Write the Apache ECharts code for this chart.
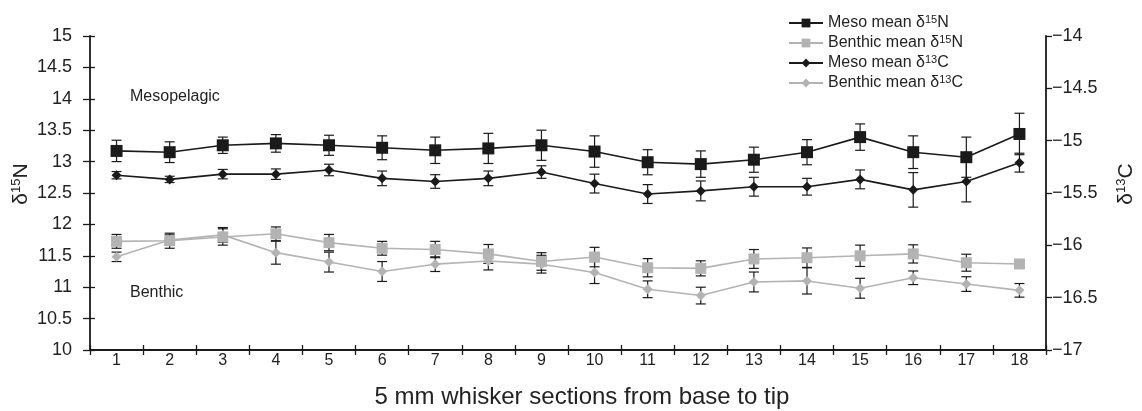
<!DOCTYPE html>
<html>
<head>
<meta charset="utf-8">
<script src="https://cdn.jsdelivr.net/npm/echarts@6/dist/echarts.min.js"></script>
<style>
html,body{margin:0;padding:0;background:#fff;}
#chart{width:1142px;height:411px;}
</style>
</head>
<body>
<div id="chart"></div>
<script>
const categories = ['1','2','3','4','5','6','7','8','9','10','11','12','13','14','15','16','17','18'];
const leftTicks = [10, 15, 0.5];
const rightTicks = [-17, -14, 0.5];

const mesoN    = [13.17,13.15,13.26,13.29,13.26,13.22,13.18,13.21,13.26,13.16,12.99,12.96,13.03,13.15,13.39,13.15,13.07,13.44];
const mesoNErr = [0.17,0.165,0.13,0.14,0.16,0.19,0.21,0.24,0.24,0.25,0.2,0.21,0.2,0.2,0.21,0.26,0.32,0.33];
const benN     = [11.73,11.74,11.80,11.85,11.71,11.62,11.60,11.53,11.41,11.48,11.31,11.30,11.45,11.47,11.50,11.53,11.39,11.37];
const benNErr  = [0.11,0.12,0.13,0.11,0.13,0.11,0.13,0.15,0.14,0.155,0.145,0.12,0.15,0.155,0.17,0.145,0.135,0.065];
const mesoC    = [-15.33,-15.37,-15.32,-15.32,-15.28,-15.36,-15.39,-15.36,-15.30,-15.41,-15.51,-15.48,-15.44,-15.44,-15.37,-15.47,-15.39,-15.21];
const mesoCErr = [0.035,0.03,0.045,0.05,0.055,0.07,0.065,0.07,0.06,0.09,0.09,0.095,0.09,0.08,0.09,0.165,0.195,0.09];
const benC     = [-16.11,-15.95,-15.90,-16.07,-16.16,-16.25,-16.18,-16.15,-16.18,-16.26,-16.42,-16.48,-16.35,-16.34,-16.41,-16.31,-16.37,-16.43];
const benCErr  = [0.045,0.05,0.07,0.11,0.095,0.095,0.07,0.085,0.085,0.105,0.08,0.08,0.095,0.125,0.095,0.065,0.07,0.065];

const seriesNames = ['Meso mean δ15N','Benthic mean δ15N','Meso mean δ13C','Benthic mean δ13C'];
const legendRich = {
  'Meso mean δ15N': '{t|Meso mean δ}{s|15}{t|N}',
  'Benthic mean δ15N': '{t|Benthic mean δ}{s|15}{t|N}',
  'Meso mean δ13C': '{t|Meso mean δ}{s|13}{t|C}',
  'Benthic mean δ13C': '{t|Benthic mean δ}{s|13}{t|C}'
};

const FONT = '"Liberation Sans", Arial, Helvetica, sans-serif';
const TXT = '#222';
const BLACK = '#1a1a1a';
const GREY = '#b3b3b3';

function errData(vals, errs) {
  return vals.map((v, i) => [i, v - errs[i], v + errs[i]]);
}
function errRender(params, api) {
  const x = api.value(0);
  const lo = api.coord([x, api.value(1)]);
  const hi = api.coord([x, api.value(2)]);
  const w = 5;
  const st = {stroke: BLACK, lineWidth: 1.2};
  return {
    type: 'group',
    children: [
      {type: 'line', shape: {x1: lo[0], y1: lo[1], x2: hi[0], y2: hi[1]}, style: st},
      {type: 'line', shape: {x1: lo[0]-w, y1: lo[1], x2: lo[0]+w, y2: lo[1]}, style: st},
      {type: 'line', shape: {x1: hi[0]-w, y1: hi[1], x2: hi[0]+w, y2: hi[1]}, style: st}
    ]
  };
}
function errSeries(vals, errs, yIdx) {
  return {
    type: 'custom', xAxisIndex: 0, yAxisIndex: yIdx, renderItem: errRender,
    data: errData(vals, errs), silent: true, z: 1,
    encode: {x: 0, y: [1, 2]}
  };
}
function lineSeries(name, vals, yIdx, color, symbol, size, z) {
  return {
    name: name, type: 'line', xAxisIndex: 0, yAxisIndex: yIdx, data: vals,
    symbol: symbol, symbolSize: size, showAllSymbol: true,
    lineStyle: {color: color, width: 1.6},
    itemStyle: {color: color, borderWidth: 0},
    emphasis: {disabled: true}, animation: false, z: z
  };
}
const minusFmt = v => String(v).replace('-', '\u2212');
const nameRich = {
  t: {fontSize: 21, fontFamily: FONT, color: TXT},
  s: {fontSize: 13, fontFamily: FONT, color: TXT, verticalAlign: 'bottom', padding: [0, 0, 9, 0]}
};

const chart = echarts.init(document.getElementById('chart'));
chart.setOption({
  animation: false,
  backgroundColor: '#fff',
  textStyle: {fontFamily: FONT, color: TXT},
  grid: {left: 90, right: 96, top: 36, bottom: 61, containLabel: false, outerBoundsMode: 'none'},
  legend: {
    orient: 'vertical', left: 783, top: 9, itemGap: 3,
    itemWidth: 34, itemHeight: 11,
    data: seriesNames,
    formatter: n => legendRich[n],
    textStyle: {
      fontFamily: FONT, color: TXT,
      rich: {
        t: {fontSize: 16, fontFamily: FONT, color: TXT},
        s: {fontSize: 11, fontFamily: FONT, color: TXT, verticalAlign: 'bottom', padding: [0, 0, 7, 0]}
      }
    }
  },
  xAxis: [
    {
      type: 'category', data: categories, boundaryGap: true, position: 'bottom',
      axisLine: {show: true, lineStyle: {color: BLACK, width: 1.8}},
      axisTick: {show: true, inside: false, length: 5, lineStyle: {color: BLACK, width: 1.3}},
      axisLabel: {fontSize: 16, color: TXT, fontFamily: FONT, margin: 3},
      name: '5 mm whisker sections from base to tip', nameLocation: 'middle', nameGap: 35,
      nameMoveOverlap: false,
      nameTextStyle: {fontSize: 24, color: TXT, fontFamily: FONT, padding: [0, 0, 0, 28]}
    },
    {
      type: 'category', data: categories, boundaryGap: true, position: 'bottom',
      axisLine: {show: false},
      axisTick: {show: true, inside: true, length: 5, lineStyle: {color: BLACK, width: 1.3}},
      axisLabel: {show: false}
    }
  ],
  yAxis: [
    {
      type: 'value', position: 'left', min: leftTicks[0], max: leftTicks[1], interval: leftTicks[2],
      splitLine: {show: false},
      axisLine: {show: true, lineStyle: {color: BLACK, width: 1.8}},
      axisTick: {show: true, inside: false, length: 7, lineStyle: {color: BLACK, width: 1.3}},
      axisLabel: {fontSize: 18, color: TXT, fontFamily: FONT, margin: 18},
      name: '{t|δ}{s|15}{t|N}', nameLocation: 'middle', nameGap: 58, nameRotate: 90,
      nameMoveOverlap: false,
      nameTextStyle: {rich: nameRich, padding: [0, 0, 0, 18]}
    },
    {
      type: 'value', position: 'right', min: rightTicks[0], max: rightTicks[1], interval: rightTicks[2],
      splitLine: {show: false},
      axisLine: {show: true, lineStyle: {color: BLACK, width: 1.8}},
      axisTick: {show: true, inside: false, length: 6, lineStyle: {color: BLACK, width: 1.3}},
      axisLabel: {fontSize: 18, color: TXT, fontFamily: FONT, margin: 6, formatter: minusFmt},
      name: '{t|δ}{s|13}{t|C}', nameLocation: 'middle', nameGap: 69, nameRotate: 90,
      nameTextStyle: {rich: nameRich, padding: [0, 0, 0, 18]}
    },
    {
      type: 'value', position: 'left', min: leftTicks[0], max: leftTicks[1], interval: leftTicks[2],
      splitLine: {show: false}, axisLine: {show: false},
      axisTick: {show: true, inside: true, length: 5, lineStyle: {color: BLACK, width: 1.3}},
      axisLabel: {show: false}
    }
  ],
  graphic: [
    {type: 'text', left: 130, top: 89, style: {text: 'Mesopelagic', fontSize: 16, fontFamily: FONT, fill: TXT}},
    {type: 'text', left: 130, top: 285, style: {text: 'Benthic', fontSize: 16, fontFamily: FONT, fill: TXT}}
  ],
  series: [
    errSeries(benN, benNErr, 0),
    errSeries(benC, benCErr, 1),
    errSeries(mesoN, mesoNErr, 0),
    errSeries(mesoC, mesoCErr, 1),
    lineSeries(seriesNames[0], mesoN, 0, BLACK, 'rect', 12, 5),
    lineSeries(seriesNames[1], benN, 0, GREY, 'rect', 11, 4),
    lineSeries(seriesNames[2], mesoC, 1, BLACK, 'diamond', 10, 5),
    lineSeries(seriesNames[3], benC, 1, GREY, 'diamond', 10, 3)
  ]
});
</script>
</body>
</html>
